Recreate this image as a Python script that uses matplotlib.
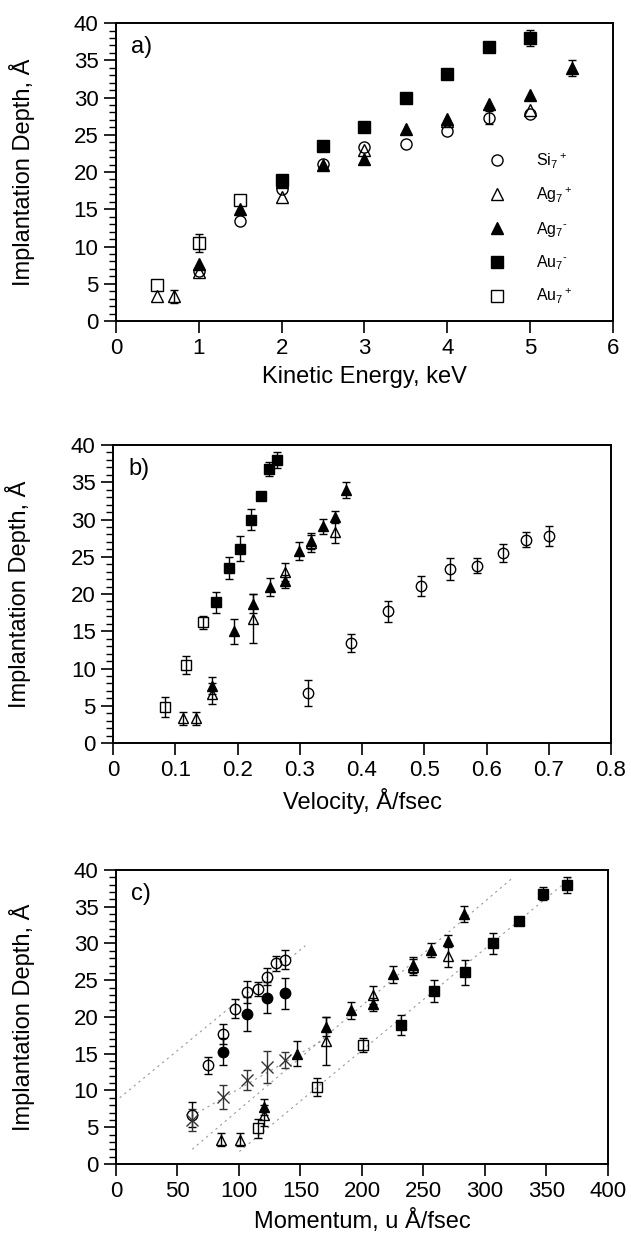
import numpy as np
import matplotlib
matplotlib.use("Agg")
import matplotlib.pyplot as plt
from matplotlib.lines import Line2D
from matplotlib.ticker import MultipleLocator, FuncFormatter

nan = np.nan

# depths (Angstrom), shared by all three panels
SI_POS_DEPTH = [6.7, 13.4, 17.7, 21.1, 23.4, 23.8, 25.5, 27.3, 27.8]
AG_POS_DEPTH = [3.3, 3.3, 6.6, 16.7, 23.0, 26.8, 28.3]
AG_NEG_DEPTH = [7.7, 15.0, 18.7, 20.9, 21.7, 25.8, 27.1, 29.1, 30.3, 34.0]
AU_NEG_DEPTH = [18.9, 23.5, 26.1, 30.0, 33.1, 36.8, 38.0]
AU_POS_DEPTH = [4.85, 10.5, 16.2]

# error bars used in b) and c)
SI_POS_ERR = [1.7, 1.2, 1.4, 1.3, 1.5, 1.0, 1.2, 1.0, 1.3]
AG_POS_ERR = [0.9, 0.9, 1.4, 3.3, 1.2, 1.1, 1.5]
AG_NEG_ERR = [1.1, 1.7, 1.3, 1.2, 0.9, 1.2, 1.1, 1.0, 0.8, 1.1]
AU_NEG_ERR = [1.4, 1.5, 1.7, 1.4, 0.5, 0.9, 1.1]
AU_POS_ERR = [1.3, 1.2, 0.9]

# a) kinetic energy, keV
SI_POS_KE = [1, 1.5, 2, 2.5, 3, 3.5, 4, 4.5, 5]
AG_POS_KE = [0.5, 0.7, 1, 2, 3, 4, 5]
AG_NEG_KE = [1, 1.5, 2, 2.5, 3, 3.5, 4, 4.5, 5, 5.5]
AU_NEG_KE = [2, 2.5, 3, 3.5, 4, 4.5, 5]
AU_POS_KE = [0.5, 1, 1.5]
# only a few error bars stick out of the markers in a)
SI_POS_ERR_A = [nan, nan, nan, nan, nan, nan, nan, 0.9, nan]
AG_POS_ERR_A = [nan, 0.9, nan, nan, nan, nan, nan]
AG_NEG_ERR_A = [nan] * 9 + [1.1]
AU_NEG_ERR_A = [nan] * 6 + [1.1]
AU_POS_ERR_A = [nan, 1.2, nan]

# b) velocity, A/fsec
SI_POS_VEL = [0.313, 0.383, 0.442, 0.494, 0.541, 0.585, 0.626, 0.664, 0.700]
AG_POS_VEL = [0.112, 0.133, 0.159, 0.225, 0.276, 0.318, 0.357]
AG_NEG_VEL = [0.159, 0.194, 0.225, 0.252, 0.276, 0.298, 0.318, 0.338, 0.357, 0.374]
AU_NEG_VEL = [0.166, 0.186, 0.204, 0.221, 0.237, 0.250, 0.264]
AU_POS_VEL = [0.084, 0.117, 0.144]

# c) momentum, u A/fsec
SI_POS_MOM = [61.5, 75, 86.7, 97, 106.5, 115.2, 123, 130.1, 137.7]
AG_POS_MOM = [85.1, 100.8, 120.3, 170.7, 208.7, 241.2, 269.7]
AG_NEG_MOM = [120.3, 147.4, 170.7, 190.8, 208.7, 225.5, 241.2, 255.8, 269.7, 282.9]
AU_NEG_MOM = [231.4, 258.8, 283.7, 306.8, 327.6, 347.4, 366.4]
AU_POS_MOM = [115.7, 163.7, 200.5]
# extra series only shown in c)
FILLED_CIRCLE_MOM = [86.7, 106.5, 123, 137.7]
FILLED_CIRCLE_DEPTH = [15.3, 20.4, 22.6, 23.2]
FILLED_CIRCLE_ERR = [1.9, 2.3, 2.1, 2.1]
CROSS_MOM = [61.5, 86.7, 106.5, 122.5, 137.7]
CROSS_DEPTH = [6.0, 9.1, 11.4, 13.2, 14.2]
CROSS_ERR = [1.5, 1.6, 1.4, 2.2, 1.1]

# dotted guide lines in c): (x0, x1), (y0, y1)
GUIDE_X = [(3, 154), (61.5, 170), (62, 323), (100.3, 371.8)]
GUIDE_Y = [(9.0, 29.7), (6.5, 17.0), (2.0, 39.0), (1.7, 39.2)]

LEGEND_LABELS = [r"Si$_7{}^+$", r"Ag$_7{}^+$", "Ag$_7{}^{\u2010}$", "Au$_7{}^{\u2010}$", r"Au$_7{}^+$"]

FONT = "Liberation Sans"
plt.rcParams["font.family"] = [FONT, "DejaVu Sans"]
plt.rcParams["mathtext.default"] = "regular"
plt.rcParams["mathtext.fontset"] = "custom"
plt.rcParams["mathtext.rm"] = FONT
plt.rcParams["mathtext.it"] = FONT + ":italic"

TICK_SIZE = 16
LABEL_SIZE = 17

STYLES = [
    ("o", False),  # Si7+
    ("^", False),  # Ag7+
    ("^", True),   # Ag7-
    ("s", True),   # Au7-
    ("s", False),  # Au7+
]


def draw_series(ax, x, y, err, marker, filled, ms=7.5):
    face = "black" if filled else "none"
    ax.errorbar(x, y, yerr=err, fmt=marker, ms=ms, mfc=face, mec="black", mew=1.0,
                ecolor="black", elinewidth=1.0, capsize=2.8, capthick=1.0, zorder=3)


def style_axis(ax, xmax, xstep, xlabel, fmt=None):
    ax.set_xlim(0, xmax)
    ax.set_ylim(0, 40)
    ax.xaxis.set_major_locator(MultipleLocator(xstep))
    ax.yaxis.set_major_locator(MultipleLocator(5))
    ax.yaxis.set_minor_locator(MultipleLocator(1))
    if fmt is not None:
        ax.xaxis.set_major_formatter(FuncFormatter(fmt))
    ax.tick_params(axis="both", which="major", direction="out", length=8.5, width=1.2,
                   labelsize=TICK_SIZE, pad=4, top=False, right=False)
    ax.tick_params(axis="y", which="minor", direction="out", length=5, width=1.0, right=False)
    ax.tick_params(axis="x", which="minor", bottom=False, top=False)
    for spine in ax.spines.values():
        spine.set_linewidth(1.4)
    ax.set_xlabel(xlabel, fontsize=LABEL_SIZE, labelpad=5)
    ax.set_ylabel("Implantation Depth, Å", fontsize=LABEL_SIZE, va="center")
    ax.yaxis.set_label_coords(-0.19, 0.5)


def main():
    fig = plt.figure(figsize=(6.31, 12.4), dpi=100)
    ax_a = fig.add_axes([0.1838, 0.7411, 0.7876, 0.2403])
    ax_b = fig.add_axes([0.1791, 0.4008, 0.7892, 0.2403])
    ax_c = fig.add_axes([0.1838, 0.0613, 0.7797, 0.2371])

    # a) kinetic energy
    a_x = [SI_POS_KE, AG_POS_KE, AG_NEG_KE, AU_NEG_KE, AU_POS_KE]
    a_err = [SI_POS_ERR_A, AG_POS_ERR_A, AG_NEG_ERR_A, AU_NEG_ERR_A, AU_POS_ERR_A]
    depths = [SI_POS_DEPTH, AG_POS_DEPTH, AG_NEG_DEPTH, AU_NEG_DEPTH, AU_POS_DEPTH]
    errs = [SI_POS_ERR, AG_POS_ERR, AG_NEG_ERR, AU_NEG_ERR, AU_POS_ERR]
    for x, y, e, (m, filled) in zip(a_x, depths, a_err, STYLES):
        draw_series(ax_a, x, y, e, m, filled, ms=8)
    style_axis(ax_a, 6, 1, "Kinetic Energy, keV")
    handles = [Line2D([], [], ls="none", marker=m, ms=8, mfc="black" if f else "none",
                      mec="black", mew=1.0) for m, f in STYLES]
    ax_a.legend(handles, LEGEND_LABELS, loc="center left", bbox_to_anchor=(0.735, 0.31),
                frameon=False, fontsize=11.5, handlelength=1.0, handletextpad=1.9,
                labelspacing=0.92, borderpad=0)

    # b) velocity
    b_x = [SI_POS_VEL, AG_POS_VEL, AG_NEG_VEL, AU_NEG_VEL, AU_POS_VEL]
    for x, y, e, (m, filled) in zip(b_x, depths, errs, STYLES):
        draw_series(ax_b, x, y, e, m, filled, ms=7.5)
    style_axis(ax_b, 0.8, 0.1, "Velocity, Å/fsec", fmt=lambda v, pos: f"{v:g}")

    # c) momentum
    for (x0, x1), (y0, y1) in zip(GUIDE_X, GUIDE_Y):
        ax_c.plot([x0, x1], [y0, y1], color="#999999", lw=0.8, ls=(0, (2.0, 3.5)), zorder=1)
    c_x = [SI_POS_MOM, AG_POS_MOM, AG_NEG_MOM, AU_NEG_MOM, AU_POS_MOM]
    for x, y, e, (m, filled) in zip(c_x, depths, errs, STYLES):
        draw_series(ax_c, x, y, e, m, filled, ms=7.5)
    draw_series(ax_c, FILLED_CIRCLE_MOM, FILLED_CIRCLE_DEPTH, FILLED_CIRCLE_ERR, "o", True, ms=7.5)
    ax_c.errorbar(CROSS_MOM, CROSS_DEPTH, yerr=CROSS_ERR, fmt="x", ms=9, mec="#333333", mew=1.0,
                  ecolor="#333333", elinewidth=1.0, capsize=2.8, capthick=1.0, zorder=3)
    style_axis(ax_c, 400, 50, "Momentum, u Å/fsec")

    for ax, tag in zip([ax_a, ax_b, ax_c], ["a)", "b)", "c)"]):
        ax.text(0.03, 0.955, tag, transform=ax.transAxes, fontsize=LABEL_SIZE, ha="left", va="top")

    fig.savefig("out.png", dpi=100)
    plt.close(fig)


if __name__ == "__main__":
    main()
